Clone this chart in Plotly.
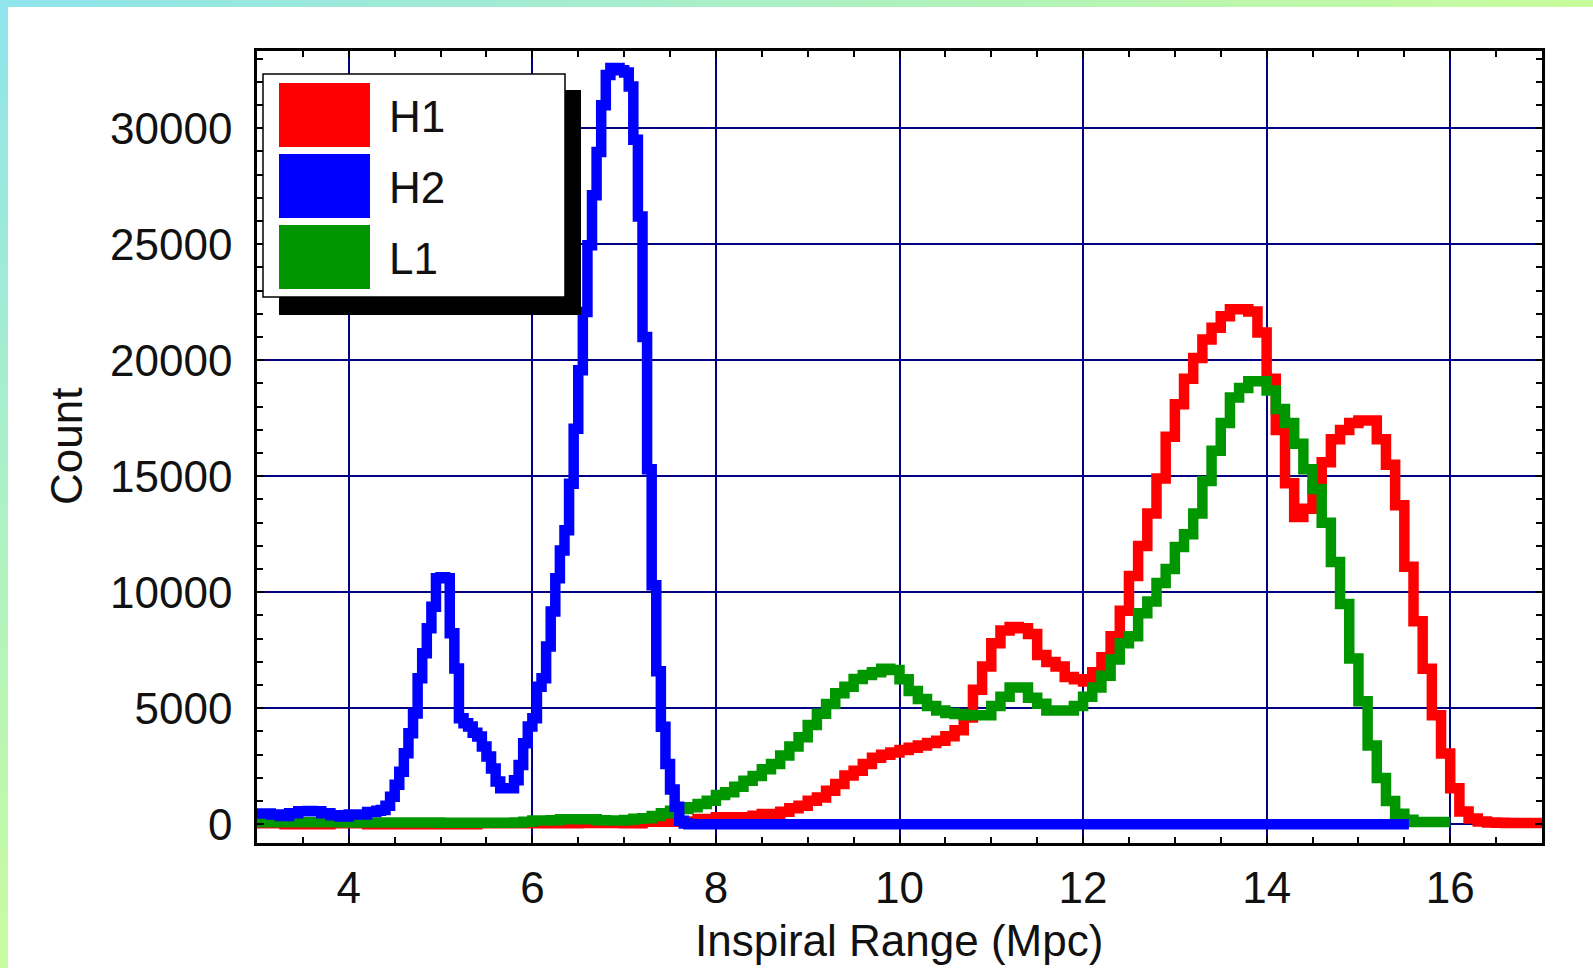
import numpy as np
import plotly.graph_objects as go

# ---------------- data ----------------
X_START = 3.0
H1_BIN = 0.1
L1_BIN = 0.1
H2_BIN = 0.05
H2_END = 15.55

H1_COUNTS = [
    50, 50, 50, 0, 0, 0, 0, 0, 40, 40,
    40, 40, 0, 0, 0, 20, 0, 0, 0, 0,
    0, 0, 0, 0, 40, 40, 40, 40, 40, 40,
    40, 40, 40, 40, 40, 60, 60, 60, 60, 60,
    40, 40, 110, 110, 115, 115, 120, 120, 230, 230,
    300, 300, 300, 300, 370, 445, 445, 545, 690, 800,
    1020, 1160, 1450, 1740, 2100, 2310, 2600, 2870, 3000, 3100,
    3200, 3300, 3400, 3500, 3600, 3800, 4050, 4600, 5800, 6800,
    7800, 8350, 8500, 8450, 8200, 7300, 7000, 6800, 6350, 6250,
    6150, 6550, 7200, 8100, 9200, 10700, 12000, 13400, 14900, 16700,
    18100, 19200, 20100, 20900, 21400, 21900, 22200, 22200, 22100, 21200,
    19200, 17000, 14700, 13250, 13600, 14600, 15600, 16600, 17000, 17300,
    17400, 17400, 16600, 15500, 13750, 11100, 8750, 6700, 4700, 3050,
    1550, 550, 250, 120, 80, 70, 60, 60, 60, 60,
]

L1_COUNTS = [
    90, 90, 90, 90, 90, 90, 90, 90, 90, 90,
    80, 80, 80, 80, 80, 80, 80, 80, 80, 80,
    70, 70, 70, 70, 70, 70, 70, 70, 80, 110,
    160, 160, 170, 215, 215, 215, 215, 170, 160, 160,
    190, 240, 260, 360, 480, 580, 660, 740, 880, 1020,
    1260, 1380, 1620, 1880, 2080, 2370, 2600, 2960, 3350, 3750,
    4280, 4760, 5190, 5650, 5930, 6260, 6440, 6550, 6700, 6650,
    6250, 5750, 5400, 5100, 4900, 4800, 4750, 4700, 4700, 4700,
    5100, 5500, 5900, 5900, 5450, 5200, 4900, 4900, 4900, 5100,
    5500, 5900, 6400, 7100, 7800, 8100, 9100, 9600, 10400, 11000,
    11950, 12500, 13400, 14800, 16100, 17300, 18400, 18800, 19100, 19100,
    18700, 17900, 17300, 16400, 15300, 14450, 13000, 11300, 9500, 7150,
    5300, 3400, 2000, 1000, 450, 200, 100, 100, 100, 100,
]

H2_COUNTS = [
    470, 470, 470, 420, 420, 360, 360, 480, 480, 560,
    560, 570, 560, 560, 480, 480, 390, 390, 340, 340,
    420, 420, 420, 420, 530, 530, 580, 620, 800, 1190,
    1700, 2270, 3060, 3920, 4780, 6290, 7370, 8450, 9380, 10600,
    10650, 10600, 8230, 6720, 4570, 4350, 4210, 3950, 3780, 3350,
    2920, 2410, 1840, 1550, 1550, 1550, 1900, 2560, 3490, 4210,
    4570, 5930, 6290, 7660, 9170, 10600, 11800, 12670, 14680, 17050,
    19570, 22080, 24960, 27110, 28980, 30990, 32300, 32600, 32600, 32500,
    32400, 31800, 29500, 26200, 21000, 15300, 10300, 6600, 4200, 2600,
    1500, 760, 150, 30, 0,
]

SERIES_NAMES = ["H1", "H2", "L1"]
SERIES_COLORS = {"H1": "#ff0000", "H2": "#0000ff", "L1": "#009600"}

X_TICKS = [4, 6, 8, 10, 12, 14, 16]
Y_TICKS = [0, 5000, 10000, 15000, 20000, 25000, 30000]

# ---------------- geometry ----------------
W, H = 1593, 968
PL, PR, PT, PB = 257, 1542, 51, 843
X_RANGE = [3.0, 17.0]
Y_RANGE = [-806, 33330]
FONT = "Liberation Sans, Arial, sans-serif"


def px(x):
    return (x - PL) / (PR - PL)


def py(y):
    return (PB - y) / (PB - PT)


def steps(start, width, counts, end=None):
    edges = start + width * np.arange(len(counts) + 1)
    if end is not None:
        edges[-1] = end
    return list(edges), list(counts) + [counts[-1]]


fig = go.Figure()
LW = 10.5
for name, width, counts, end in [
    ("H1", H1_BIN, H1_COUNTS, None),
    ("L1", L1_BIN, L1_COUNTS, None),
    ("H2", H2_BIN, H2_COUNTS, H2_END),
]:
    x, y = steps(X_START, width, counts, end)
    fig.add_trace(go.Scatter(
        x=x, y=y, mode="lines", name=name,
        line=dict(color=SERIES_COLORS[name], width=LW, shape="hv"),
        showlegend=False, hoverinfo="skip",
    ))

shapes = []

# gradient frame strips (top & left)
def lerp(c0, c1, t):
    return "rgb(%d,%d,%d)" % tuple(round(a + (b - a) * t) for a, b in zip(c0, c1))

C_TL = (143, 228, 236)
C_TR = (200, 252, 155)
C_BL = (200, 252, 160)
N = 48
for i in range(N):
    x0 = W * i / N
    x1 = W * (i + 1) / N + 1
    shapes.append(dict(type="rect", xref="paper", yref="paper",
                       x0=px(x0), x1=px(x1), y0=py(7), y1=py(0),
                       fillcolor=lerp(C_TL, C_TR, (i + 0.5) / N),
                       line=dict(width=0), layer="above"))
for i in range(N):
    y0 = H * i / N
    y1 = H * (i + 1) / N + 1
    shapes.append(dict(type="rect", xref="paper", yref="paper",
                       x0=px(0), x1=px(8), y0=py(y1), y1=py(y0),
                       fillcolor=lerp(C_TL, C_BL, (i + 0.5) / N),
                       line=dict(width=0), layer="above"))

# legend box with shadow
LB = dict(l=263, r=565, t=74, b=297)
SH = 16
shapes.append(dict(type="rect", xref="paper", yref="paper",
                   x0=px(LB["l"] + SH), x1=px(LB["r"] + SH),
                   y0=py(LB["b"] + SH + 2), y1=py(LB["t"] + SH),
                   fillcolor="black", line=dict(width=0), layer="above"))
shapes.append(dict(type="rect", xref="paper", yref="paper",
                   x0=px(LB["l"]), x1=px(LB["r"]),
                   y0=py(LB["b"]), y1=py(LB["t"]),
                   fillcolor="white", line=dict(color="black", width=1.5),
                   layer="above"))
annotations = []
SW_L, SW_R, SW_H = 279, 370, 64
SW_TOPS = [83, 154, 225]
for name, top in zip(SERIES_NAMES, SW_TOPS):
    shapes.append(dict(type="rect", xref="paper", yref="paper",
                       x0=px(SW_L), x1=px(SW_R),
                       y0=py(top + SW_H), y1=py(top),
                       fillcolor=SERIES_COLORS[name], line=dict(width=0),
                       layer="above"))
    annotations.append(dict(text=name, xref="paper", yref="paper",
                            x=px(387), y=py(top + SW_H / 2 + 1),
                            xanchor="left", yanchor="middle", showarrow=False,
                            font=dict(family=FONT, size=44, color="#111")))

# axis titles
annotations.append(dict(text="Count", xref="paper", yref="paper",
                        x=px(66), y=py(447), textangle=-90,
                        xanchor="center", yanchor="middle", showarrow=False,
                        font=dict(family=FONT, size=44, color="#111")))
annotations.append(dict(text="Inspiral Range (Mpc)", xref="paper", yref="paper",
                        x=px(899), y=py(940),
                        xanchor="center", yanchor="middle", showarrow=False,
                        font=dict(family=FONT, size=44, color="#111")))

axis_common = dict(
    showgrid=True, gridcolor="#000080", gridwidth=1.5,
    showline=True, linecolor="black", linewidth=2.5, mirror="allticks",
    ticks="inside", ticklen=7, tickwidth=2, tickcolor="black",
    zeroline=False, tickfont=dict(family=FONT, size=44, color="#111"),
    fixedrange=True,
)

fig.update_layout(
    width=W, height=H,
    margin=dict(l=PL, r=W - PR, t=PT, b=H - PB, autoexpand=False),
    paper_bgcolor="white", plot_bgcolor="white",
    xaxis=dict(range=X_RANGE, tickvals=X_TICKS, ticktext=[str(v) for v in X_TICKS],
               minor=dict(dtick=0.5, tick0=0, ticks="inside", ticklen=6,
                          tickwidth=2, tickcolor="black", showgrid=False),
               ticklabelstandoff=4, **axis_common),
    yaxis=dict(range=Y_RANGE, tickvals=Y_TICKS, ticktext=[str(v) for v in Y_TICKS],
               minor=dict(dtick=1000, tick0=0, ticks="inside", ticklen=6,
                          tickwidth=2, tickcolor="black", showgrid=False),
               ticklabelstandoff=13, **axis_common),
    shapes=shapes, annotations=annotations,
    showlegend=False,
)

fig.write_html("out.html")
